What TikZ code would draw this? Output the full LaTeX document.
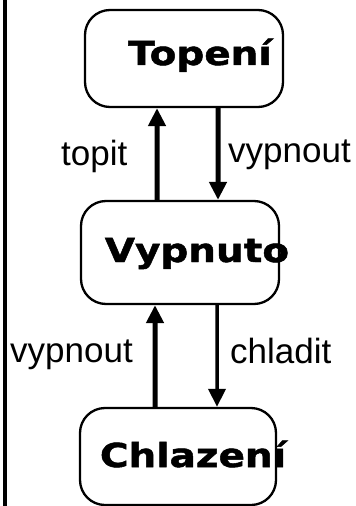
\documentclass[tikz,border=0pt]{standalone}
\usepackage{fontspec}
\setmainfont{Liberation Sans}
\newfontfamily\statefont[FakeStretch=1.18,FakeBold=1.5]{DejaVu Sans Bold}
\usetikzlibrary{arrows.meta}

\begin{document}
\begin{tikzpicture}[x=1bp,y=-1bp,
  state/.style={draw,line width=2.3bp,rounded corners=25bp,inner sep=0pt},
  statename/.style={anchor=base,inner sep=0pt,font=\statefont\fontsize{33bp}{33bp}\selectfont},
  trans/.style={line width=5bp,-{Triangle[length=18bp,width=17bp]}},
  event/.style={anchor=base west,inner sep=0pt,font=\fontsize{35bp}{35bp}\selectfont}]
  \useasboundingbox (0,0) rectangle (355,506);
  \draw[line width=4bp] (4.5,0) -- (4.5,506);
  \node[state,minimum width=198bp,minimum height=97bp] (topeni) at (184,58.5) {};
  \node[state,minimum width=198bp,minimum height=103bp] (vypnuto) at (180,252.5) {};
  \node[state,minimum width=196bp,minimum height=97bp] (chlazeni) at (178,456.5) {};
  \node[statename] (topeniT) at (200,65) {Topení};
  \node[statename] (vypnutoT) at (197,262) {Vypnuto};
  \node[statename] (chlazeniT) at (193,467) {Chlazení};
  \draw[trans] ([xshift=-23bp]vypnuto.north) -- ([xshift=-27bp]topeni.south);
  \draw[trans] ([xshift=34bp]topeni.south) -- ([xshift=38bp]vypnuto.north);
  \draw[trans] ([xshift=-23bp]chlazeni.north) -- ([xshift=-25bp]vypnuto.south);
  \draw[trans,line width=3.5bp] ([xshift=37bp]vypnuto.south) -- ([xshift=39bp]chlazeni.north);
  \node[event] (topit) at (61,166) {topit};
  \node[event] (vypnout1) at (228,163) {vypnout};
  \node[event] (vypnout2) at (10,362) {vypnout};
  \node[event] (chladit) at (230,363) {chladit};
\end{tikzpicture}
\end{document}
